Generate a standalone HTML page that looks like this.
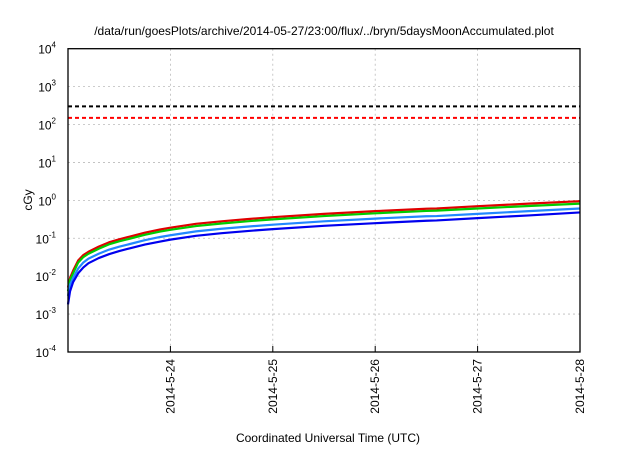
<!DOCTYPE html>
<html><head><meta charset="utf-8"><style>
body{margin:0;background:#fff;width:640px;height:448px;overflow:hidden}
svg text{font-family:"Liberation Sans",sans-serif;fill:#000}
</style></head><body>
<svg id="c" width="640" height="448">
<text x="324" y="35" font-size="12" text-anchor="middle">/data/run/goesPlots/archive/2014-05-27/23:00/flux/../bryn/5daysMoonAccumulated.plot</text>
<text x="328" y="442" font-size="12" text-anchor="middle">Coordinated Universal Time (UTC)</text>
<text x="32" y="200" font-size="12" text-anchor="middle" transform="rotate(-90 32 200)">cGy</text>
<g id="grid"></g><g id="series"></g>
<rect x="68" y="48.7" width="512" height="303.3" fill="none" stroke="#000" stroke-width="1.3"/>
<g id="ticks"></g>
</svg>
<script>
const dayLabels=["2014-5-24","2014-5-25","2014-5-26","2014-5-27","2014-5-28"];
const dayTicks=[1,2,3,4,5];
const yExps=[-4,-3,-2,-1,0,1,2,3,4];
const times=[0,0.02,0.05,0.1,0.15,0.2,0.3,0.4,0.5,0.6,0.75,0.9,1,1.25,1.5,1.75,2,2.5,3,3.5,3.6,4,4.5,5];
const red=[0.005,0.009,0.014,0.026,0.036,0.044,0.06,0.078,0.094,0.11,0.14,0.17,0.19,0.24,0.28,0.32,0.36,0.44,0.52,0.6,0.61,0.7,0.82,0.95];
const green=[0.004,0.008,0.012,0.023,0.032,0.039,0.053,0.069,0.083,0.097,0.123,0.15,0.167,0.21,0.245,0.28,0.315,0.385,0.455,0.525,0.535,0.61,0.71,0.82];
const lightblue=[0.003,0.006,0.009,0.016,0.023,0.029,0.039,0.05,0.06,0.07,0.089,0.108,0.12,0.152,0.178,0.203,0.228,0.28,0.33,0.38,0.385,0.44,0.52,0.61];
const blue=[0.0018,0.004,0.007,0.012,0.017,0.022,0.03,0.038,0.046,0.054,0.068,0.082,0.092,0.116,0.136,0.155,0.174,0.213,0.25,0.29,0.295,0.34,0.4,0.48];
const thresholds=[300,150];
const NS="http://www.w3.org/2000/svg";
const X=t=>68+t*102.4, Y=v=>48.7+(4-Math.log10(v))*37.91;
function mk(tag,attrs,parent){const e=document.createElementNS(NS,tag);for(const k in attrs)e.setAttribute(k,attrs[k]);parent.appendChild(e);return e;}
const grid=document.getElementById('grid'),ticks=document.getElementById('ticks'),ser=document.getElementById('series');
yExps.forEach(p=>{const y=Y(Math.pow(10,p));
 if(p>-4&&p<4){const l=mk('line',{x1:68,x2:580,y1:y,y2:y,stroke:'#bbb','stroke-dasharray':'2,3','stroke-width':0.8},grid);
 
 }
 const t=mk('text',{x:56,y:y+5,'font-size':12,'text-anchor':'end'},ticks);
 
 
 t.textContent='10';const s=mk('tspan',{dy:-6,'font-size':8},t);s.textContent=p;});
dayTicks.forEach((d,i)=>{const x=X(d);
 if(d<5){const l=mk('line',{x1:x,x2:x,y1:48.7,y2:352,stroke:'#bbb','stroke-dasharray':'2,3','stroke-width':0.8},grid);
 
 }
 const tk=mk('line',{x1:x,x2:x,y1:346,y2:352,stroke:'#000'},ticks);
 
 
 const t=mk('text',{x:x+4,y:359,'font-size':12,'text-anchor':'end',transform:`rotate(-90 ${x+4} 359)`},ticks);
 
 
 t.textContent=dayLabels[i];});
[['#000',thresholds[0],'threshold-black'],['#f00',thresholds[1],'threshold-red']].forEach(([c,v,n])=>{
 const l=mk('line',{x1:68,x2:580,y1:Y(v),y2:Y(v),stroke:c,'stroke-width':2,'stroke-dasharray':'4,3'},ser);
 
 });
[[red,'#e00000','series-red'],[green,'#00cc00','series-green'],[lightblue,'#2288ff','series-lightblue'],[blue,'#0000ee','series-blue']].forEach(([arr,c,n])=>{
 const p=mk('polyline',{points:arr.map((v,i)=>X(times[i])+','+Y(v)).join(' '),fill:'none',stroke:c,'stroke-width':2.2,'stroke-linejoin':'round'},ser);
 
 });
</script>
</body></html>
